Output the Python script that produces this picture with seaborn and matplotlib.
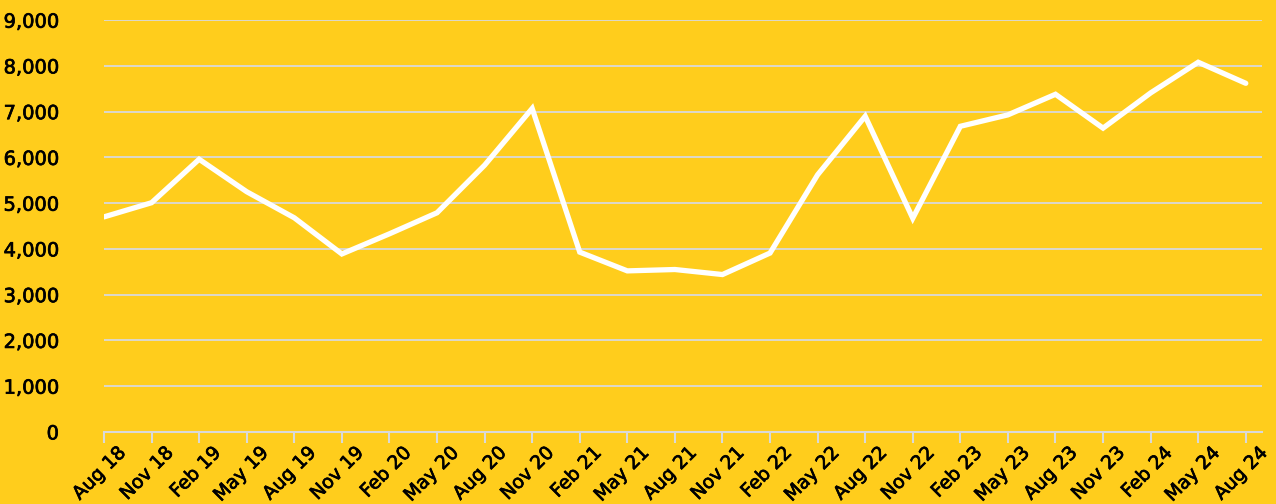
import pandas as pd
import matplotlib.pyplot as plt
import matplotlib.transforms as mtransforms
import matplotlib.patheffects as pe
import seaborn as sns

# Data
quarters = ['Aug 18', 'Nov 18', 'Feb 19', 'May 19', 'Aug 19', 'Nov 19', 'Feb 20', 'May 20',
            'Aug 20', 'Nov 20', 'Feb 21', 'May 21', 'Aug 21', 'Nov 21', 'Feb 22', 'May 22',
            'Aug 22', 'Nov 22', 'Feb 23', 'May 23', 'Aug 23', 'Nov 23', 'Feb 24', 'May 24', 'Aug 24']
values = [4700, 5010, 5960, 5250, 4680, 3890, 4330, 4790,
          5830, 7070, 3930, 3520, 3550, 3440, 3910, 5620,
          6900, 4670, 6680, 6930, 7380, 6640, 7410, 8080, 7620]
y_ticks = [0, 1000, 2000, 3000, 4000, 5000, 6000, 7000, 8000, 9000]

BG = '#FFCD1C'
GRID = '#D9D9D9'

sns.set_theme(style='white')
plt.rcParams['font.family'] = ['DejaVu Sans']

df = pd.DataFrame({'pos': range(len(quarters)), 'value': values})

fig = plt.figure(figsize=(12.76, 5.04), dpi=100, facecolor=BG)
ax = fig.add_axes([0.0815, 0.143, 0.9075, 0.817], facecolor=BG)

sns.lineplot(data=df, x='pos', y='value', ax=ax, color='white', linewidth=3.8,
             solid_joinstyle='miter', zorder=3)

ax.set_xlim(0, len(quarters) - 1 + 0.34)
ax.set_ylim(0, 9000)
ax.set_yticks(y_ticks)
ax.set_yticklabels([f'{v:,}' for v in y_ticks])
ax.set_xticks(range(len(quarters)))
ax.set_xticklabels(quarters, rotation=45, ha='right', va='top', rotation_mode='anchor')

ax.grid(axis='y', color=GRID, linewidth=1.3)
ax.grid(axis='x', visible=False)
for s in ['top', 'right', 'left']:
    ax.spines[s].set_visible(False)
ax.spines['bottom'].set_color(GRID)
ax.spines['bottom'].set_linewidth(1.5)

ax.tick_params(axis='x', bottom=True, length=8, width=1.5, color=GRID, pad=0,
               labelsize=13.5, labelcolor='black')
ax.tick_params(axis='y', left=False, pad=26.5, labelsize=14, labelcolor='black')
ax.set_xlabel('')
ax.set_ylabel('')

# shift x labels a little to the right like the reference, thicken glyphs a bit
shift = mtransforms.ScaledTranslation(0.12, 0.0, fig.dpi_scale_trans)
for lbl in ax.get_xticklabels():
    lbl.set_transform(lbl.get_transform() + shift)
for lbl in ax.get_xticklabels() + ax.get_yticklabels():
    lbl.set_path_effects([pe.withStroke(linewidth=0.5, foreground='black')])

fig.savefig('out.png', dpi=100, facecolor=BG)
